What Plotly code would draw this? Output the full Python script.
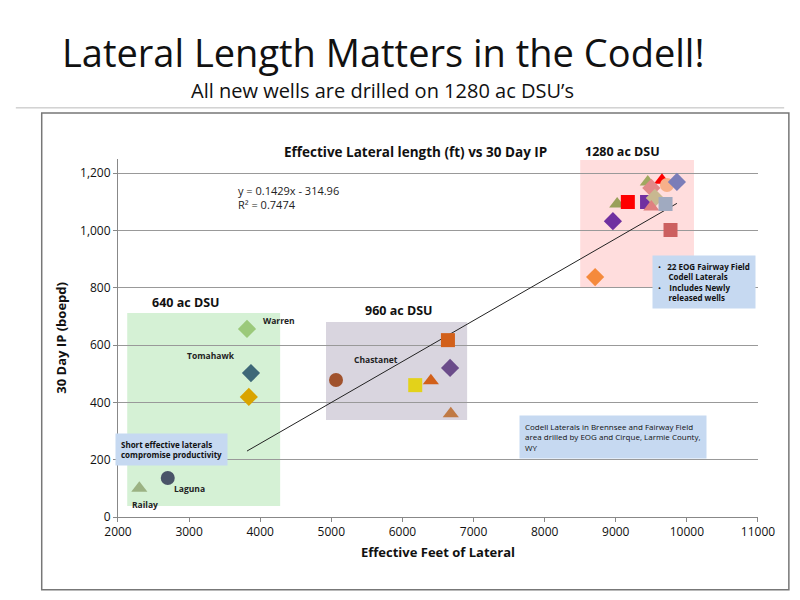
import plotly.graph_objects as go

# well data (effective lateral ft, 30 day IP boepd)
wells_x = [3814, 3870, 3840, 2700, 2300,
           5066, 6640, 6670, 6180, 6400, 6680,
           8710, 8960, 9020, 9170, 9440, 9450, 9650, 9500, 9720, 9860, 9550, 9500, 9700, 9770]
wells_y = [656, 502, 419, 136, 100,
           478, 617, 520, 460, 475, 360,
           837, 1032, 1092, 1099, 1099, 1169, 1175, 1148, 1158, 1169, 1113, 1081, 1092, 1001]
wells_sym = ["diamond", "diamond", "diamond", "circle", "triangle-up",
             "circle", "square", "diamond", "square", "triangle-up", "triangle-up",
             "diamond", "diamond", "triangle-up", "square", "square", "triangle-up", "triangle-up",
             "diamond", "circle", "diamond", "diamond", "triangle-up", "square", "square"]
wells_col = ["#9BC97A", "#3E6878", "#D9A400", "#4A5468", "#9BB283",
             "#A0522D", "#D2601A", "#6B4C8A", "#E3D21A", "#D2601A", "#C07A45",
             "#F58A3C", "#7030A0", "#9AA05A", "#FF0000", "#7030A0", "#A0A860", "#FF0000",
             "#E08A8A", "#F7B08A", "#7B7DB8", "#C8B890", "#E08080", "#A0AAC0", "#CC6060"]
well_labels = {0: "Warren", 1: "Tomahawk", 3: "Laguna", 4: "Railay", 5: "Chastanet"}

slope, intercept = 0.1429, -314.96
trend_x = [3814, 9860]
trend_y = [slope * v + intercept for v in trend_x]

x_ticks = [2000, 3000, 4000, 5000, 6000, 7000, 8000, 9000, 10000, 11000]
y_ticks = [0, 200, 400, 600, 800, 1000, 1200]

fig = go.Figure()

# ── DSU boxes ─────────────────────────────────────────────
for x0, x1, y0, y1, col in [(2130, 4280, 38, 712, "rgba(150,220,150,0.4)"),
                            (4925, 6910, 338, 680, "rgba(160,150,175,0.4)"),
                            (8500, 10100, 802, 1245, "rgba(255,170,170,0.4)")]:
    fig.add_shape(type="rect", xref="x", yref="y", x0=x0, x1=x1, y0=y0, y1=y1,
                  fillcolor=col, line_width=0, layer="below")

fig.add_trace(go.Scatter(x=trend_x, y=trend_y, mode="lines",
                         line=dict(color="#222", width=1), showlegend=False))
fig.add_trace(go.Scatter(x=wells_x, y=wells_y, mode="markers", showlegend=False,
                         marker=dict(symbol=wells_sym, color=wells_col, size=14,
                                     line=dict(width=0))))

for i, name in well_labels.items():
    dx = {0: 32, 1: -40, 3: 22, 4: 6, 5: 40}[i]
    dy = {0: -8, 1: -18, 3: 10, 4: 16, 5: -20}[i]
    fig.add_annotation(x=wells_x[i], y=wells_y[i], text="<b>" + name + "</b>", showarrow=False,
                       xshift=dx, yshift=-dy, font=dict(size=8.5, color="#222"))

for txt, x, y in [("640 ac DSU", 2950, 710), ("960 ac DSU", 5950, 685), ("1280 ac DSU", 9100, 1240)]:
    fig.add_annotation(x=x, y=y, text="<b>" + txt + "</b>", showarrow=False, yanchor="bottom",
                       font=dict(size=12.5, color="#111"))

fig.add_annotation(x=4400, y=1115, text="y = 0.1429x - 314.96<br>R² = 0.7474", showarrow=False,
                   align="left", font=dict(size=11, color="#222"))

# callout boxes
for txt, x, y in [("•   <b>22 EOG Fairway Field</b><br>     <b>Codell Laterals</b><br>•    <b>Includes Newly</b><br>     <b>released wells</b>", 0.821, 0.577),
                  ("Codell Laterals in Brennsee and Fairway Field<br>area drilled by EOG and Cirque, Larmie County,<br>WY", 0.652, 0.303),
                  ("<b>Short effective laterals</b><br><b>compromise productivity</b>", 0.136, 0.272)]:
    fig.add_annotation(xref="paper", yref="paper", x=x, y=y, text=txt, showarrow=False,
                       xanchor="left", yanchor="top", align="left", bgcolor="#C6D9F1",
                       borderpad=5, font=dict(size=8, color="#111"))

fig.add_annotation(xref="paper", yref="paper", x=0.478, y=0.972, text="Lateral Length Matters in the Codell!",
                   showarrow=False, font=dict(size=38, color="#111"))
fig.add_annotation(xref="paper", yref="paper", x=0.478, y=0.885, text="All new wells are drilled on 1280 ac DSU’s",
                   showarrow=False, font=dict(size=20, color="#111"))
fig.add_annotation(xref="paper", yref="paper", x=0.52, y=0.772, text="<b>Effective Lateral length (ft) vs 30 Day IP</b>",
                   showarrow=False, font=dict(size=13.5, color="#111"))

fig.add_shape(type="rect", xref="paper", yref="paper", x0=0.043, x1=0.996, y0=0.004, y1=0.82,
              line=dict(color="#777", width=1.5))
fig.add_shape(type="line", xref="paper", yref="paper", x0=0.01, x1=0.99, y0=0.829, y1=0.829,
              line=dict(color="#BBB", width=1))

fig.update_layout(
    width=784, height=584, margin=dict(l=0, r=0, t=0, b=0),
    paper_bgcolor="white", plot_bgcolor="white",
    font=dict(family="Open Sans", size=12, color="#111"),
    xaxis=dict(domain=[0.1403, 0.9566], range=[2000, 11000], tickvals=x_ticks,
               ticktext=[str(v) for v in x_ticks], automargin=False,
               showgrid=False, zeroline=False, showline=True, linecolor="#888",
               ticks="outside", ticklen=4, tickcolor="#888",
               title=dict(text="<b>Effective Feet of Lateral</b>", font=dict(size=13), standoff=8)),
    yaxis=dict(domain=[0.1284, 0.742], range=[0, 1250], tickvals=y_ticks, tickformat=",",
               automargin=False,
               showgrid=True, gridcolor="#999", zeroline=False, showline=True, linecolor="#888",
               ticks="outside", ticklen=4, tickcolor="#888",
               title=dict(text="<b>30 Day IP (boepd)</b>", font=dict(size=13), standoff=10)),
)

fig.write_html("out.html")
